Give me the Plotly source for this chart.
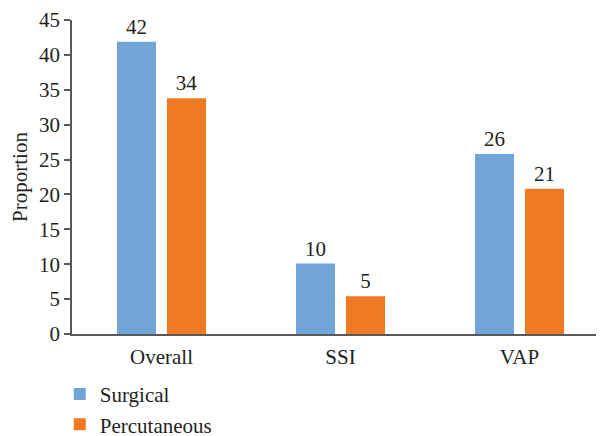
import plotly.graph_objects as go

categories = ["Overall", "SSI", "VAP"]
surgical = [41.9, 10.1, 25.8]
percutaneous = [33.8, 5.4, 20.8]
y_ticks = [0, 5, 10, 15, 20, 25, 30, 35, 40, 45]

FONT = "Liberation Serif"
TXT = "#231F20"
FS = 21

fig = go.Figure()
fig.add_trace(go.Bar(
    name="Surgical", x=categories, y=surgical, legendgroup="s",
    marker=dict(color="#71A4D7", line=dict(width=0)),
    texttemplate="%{y:.0f}", textposition="outside",
    textfont=dict(family=FONT, size=FS, color=TXT), cliponaxis=False,
))
fig.add_trace(go.Bar(
    name="Percutaneous", x=categories, y=percutaneous, legendgroup="p",
    marker=dict(color="#EE7B24", line=dict(width=0)),
    texttemplate="%{y:.0f}", textposition="outside",
    textfont=dict(family=FONT, size=FS, color=TXT), cliponaxis=False,
))

# the page body has an 8px margin, so the figure is sized to fill the rest
fig.update_layout(
    width=596, height=428,
    margin=dict(l=64, r=0, t=12, b=102, autoexpand=False),
    paper_bgcolor="white", plot_bgcolor="white",
    font=dict(family=FONT, size=FS, color=TXT),
    barmode="group", bargap=0.441, bargroupgap=0.22,
    legend=dict(
        x=-0.023, y=-0.127, xanchor="left", yanchor="top",
        orientation="v", font=dict(family=FONT, size=FS, color=TXT),
        traceorder="grouped", tracegroupgap=0, bgcolor="rgba(0,0,0,0)",
    ),
    xaxis=dict(
        range=[-0.5, 2.472], showline=True, linecolor="#595959", linewidth=1.5,
        ticks="", showgrid=False, zeroline=False, automargin=False,
        tickfont=dict(family=FONT, size=FS, color=TXT), ticklabelstandoff=3,
    ),
    yaxis=dict(
        range=[0, 45], tickvals=y_ticks, showline=True, linecolor="#595959",
        linewidth=1.5, ticks="outside", ticklen=6, tickcolor="#595959",
        tickwidth=1.5, showgrid=False, zeroline=False, automargin=False,
        tickfont=dict(family=FONT, size=FS, color=TXT),
        title=dict(text="Proportion", font=dict(family=FONT, size=FS, color=TXT), standoff=8),
    ),
)

fig.write_html("out.html")
